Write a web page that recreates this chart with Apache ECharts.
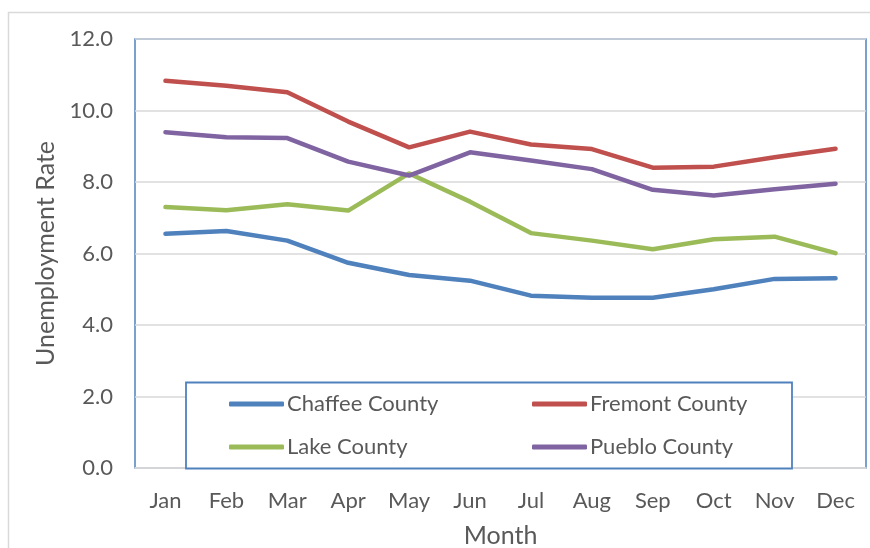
<!DOCTYPE html>
<html>
<head>
<meta charset="utf-8">
<style>
  html, body { margin: 0; padding: 0; background: #fff; }
  #chart { width: 870px; height: 548px; }
</style>
<script src="https://cdn.jsdelivr.net/npm/echarts@6/dist/echarts.min.js"></script>
</head>
<body>
<div id="chart"></div>
<script>
// Monthly unemployment rate by county (%)
const months = ['Jan', 'Feb', 'Mar', 'Apr', 'May', 'Jun', 'Jul', 'Aug', 'Sep', 'Oct', 'Nov', 'Dec'];
const chaffee = [6.55, 6.63, 6.36, 5.74, 5.40, 5.24, 4.82, 4.76, 4.76, 5.00, 5.29, 5.31];
const fremont = [10.83, 10.69, 10.51, 9.69, 8.97, 9.41, 9.05, 8.92, 8.40, 8.43, 8.69, 8.93];
const lake    = [7.30, 7.21, 7.38, 7.20, 8.24, 7.45, 6.57, 6.36, 6.12, 6.40, 6.47, 6.01];
const pueblo  = [9.39, 9.25, 9.23, 8.57, 8.18, 8.83, 8.60, 8.36, 7.78, 7.62, 7.80, 7.95];
const yTicks = { min: 0, max: 12, step: 2 };

const FONT = 'Lato, "Open Sans", sans-serif';
const TEXT = '#595959';
const GRIDC = '#d9d9d9';
const BLUE = '#4f81bd';

function line(name, data, color) {
  return {
    name, type: 'line', data,
    symbol: 'none',
    lineStyle: { width: 4.5, color, cap: 'round', join: 'round' },
    itemStyle: { color }
  };
}

const legendBase = {
  orient: 'vertical',
  icon: 'roundRect',
  itemWidth: 55,
  itemHeight: 5,
  itemGap: 21,
  top: 393,
  textStyle: { fontFamily: FONT, fontSize: 22, color: TEXT, padding: [0, 0, 0, -2] },
  padding: 0,
  z: 6
};

const chart = echarts.init(document.getElementById('chart'), null, { renderer: 'canvas' });
chart.setOption({
  animation: false,
  backgroundColor: '#fff',
  grid: {
    left: 135, right: 4, top: 39, bottom: 80,
    outerBoundsMode: 'none',
    containLabel: false,
    show: true, borderColor: BLUE, borderWidth: 1.5, backgroundColor: 'transparent'
  },
  xAxis: {
    type: 'category',
    data: months,
    boundaryGap: true,
    name: 'Month',
    nameLocation: 'middle',
    nameGap: 55,
    nameTextStyle: { fontFamily: FONT, fontSize: 25, color: TEXT },
    axisLine: { show: true, lineStyle: { color: GRIDC, width: 1.5 } },
    axisTick: { show: false },
    axisLabel: { fontFamily: FONT, fontSize: 22, color: TEXT, margin: 22 }
  },
  yAxis: {
    type: 'value',
    min: yTicks.min, max: yTicks.max, interval: yTicks.step,
    name: 'Unemployment Rate',
    nameLocation: 'middle',
    nameGap: 75,
    nameTextStyle: { fontFamily: FONT, fontSize: 25, color: TEXT },
    axisLine: { show: false },
    axisTick: { show: false },
    axisLabel: {
      fontFamily: FONT, fontSize: 22, color: TEXT, margin: 22,
      formatter: v => v.toFixed(1)
    },
    splitLine: { lineStyle: { color: GRIDC, width: 1.5 } }
  },
  legend: [
    Object.assign({}, legendBase, { left: 229, data: ['Chaffee County', 'Lake County'] }),
    Object.assign({}, legendBase, { left: 532, data: ['Fremont County', 'Pueblo County'] })
  ],
  graphic: [
    {
      type: 'rect', z: 3, silent: true,
      shape: { x: 8.5, y: 12.5, width: 900, height: 600 },
      style: { fill: 'none', stroke: GRIDC, lineWidth: 1.5 }
    },
    {
      type: 'rect', z: 3, silent: true,
      shape: { x: 186, y: 382.5, width: 606, height: 86 },
      style: { fill: '#fff', stroke: BLUE, lineWidth: 1.8 }
    }
  ],
  series: [
    line('Chaffee County', chaffee, '#4f81bd'),
    line('Fremont County', fremont, '#c0504d'),
    line('Lake County', lake, '#9bbb59'),
    line('Pueblo County', pueblo, '#8064a2')
  ]
});
</script>
</body>
</html>
